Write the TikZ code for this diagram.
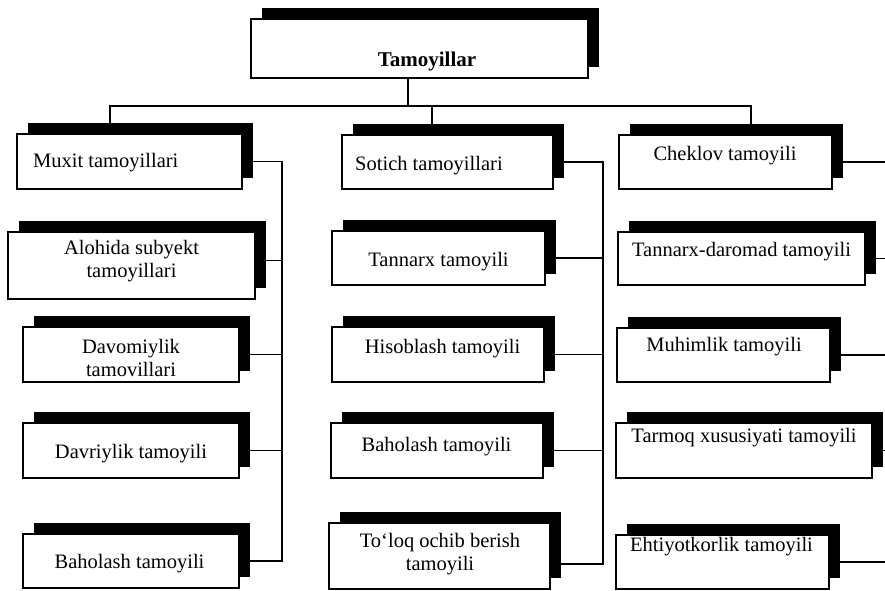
\documentclass[tikz,border=0pt]{standalone}
\usepackage{fontspec}
\setmainfont{Liberation Serif}
\usetikzlibrary{shadows,backgrounds}

\begin{document}
\begin{tikzpicture}[x=1pt,y=-1pt,
  box/.style={rectangle, draw=black, line width=1.5pt, fill=white, inner sep=0pt,
    drop shadow={shadow xshift=11pt, shadow yshift=11pt, fill=black, opacity=1}},
  txt/.style={inner sep=0pt, anchor=base, align=center,
    font=\fontsize{20.5}{23}\selectfont},
  link/.style={draw=black, line width=1.4pt}]
\useasboundingbox (0,0) rectangle (885,590);

% boxes: centre, width, height
\node[box, minimum width=337pt, minimum height=59pt] (top) at (419.5,48.5) {};

\node[box, minimum width=225pt, minimum height=55pt] (l1) at (129.5,161.5) {};
\node[box, minimum width=247pt, minimum height=67pt] (l2) at (131.5,265.5) {};
\node[box, minimum width=216pt, minimum height=55pt] (l3) at (131,354.5) {};
\node[box, minimum width=216pt, minimum height=55pt] (l4) at (131,450.5) {};
\node[box, minimum width=216pt, minimum height=54pt] (l5) at (131,561) {};

\node[box, minimum width=211pt, minimum height=54pt] (m1) at (447.5,162) {};
\node[box, minimum width=213pt, minimum height=54pt] (m2) at (438.5,258) {};
\node[box, minimum width=212pt, minimum height=55pt] (m3) at (438,354.5) {};
\node[box, minimum width=212pt, minimum height=55pt] (m4) at (437,450.5) {};
\node[box, minimum width=221pt, minimum height=66pt] (m5) at (439.5,556) {};

\node[box, minimum width=213pt, minimum height=54pt] (r1) at (725.5,162) {};
\node[box, minimum width=247pt, minimum height=53pt] (r2) at (741.5,258.5) {};
\node[box, minimum width=213pt, minimum height=54pt] (r3) at (723.5,355) {};
\node[box, minimum width=256pt, minimum height=55pt] (r4) at (744,450.5) {};
\node[box, minimum width=213pt, minimum height=54pt] (r5) at (722.5,562) {};

% labels (two-line labels are placed by the baseline of their last line)
\node[txt, font=\fontsize{21}{23}\selectfont\bfseries] (ttop) at (427,66) {Tamoyillar};

\node[txt, anchor=base west] (tl1) at (33,167.5) {Muxit tamoyillari};
\node[txt] (tl2) at (131.5,277.5) {Alohida subyekt\\tamoyillari};
\node[txt] (tl3) at (131,376) {Davomiylik\\tamovillari};
\node[txt] (tl4) at (131,458.5) {Davriylik tamoyili};
\node[txt] (tl5) at (129.5,568) {Baholash tamoyili};

\node[txt, anchor=base west] (tm1) at (355,170.5) {Sotich tamoyillari};
\node[txt] (tm2) at (438.5,266) {Tannarx tamoyili};
\node[txt] (tm3) at (442.5,353) {Hisoblash tamoyili};
\node[txt] (tm4) at (436.5,451) {Baholash tamoyili};
\node[txt] (tm5) at (440,570) {To‘loq ochib berish\\tamoyili};

\node[txt] (tr1) at (725,160) {Cheklov tamoyili};
\node[txt] (tr2) at (741.5,256) {Tannarx-daromad tamoyili};
\node[txt] (tr3) at (724,351.5) {Muhimlik tamoyili};
\node[txt] (tr4) at (744,442) {Tarmoq xususiyati tamoyili};
\node[txt] (tr5) at (721.5,551) {Ehtiyotkorlik tamoyili};

% junction points of the tree
\coordinate (hub) at (408,106);
\coordinate (hl) at (110,106);
\coordinate (hm) at (432,106);
\coordinate (hr) at (751,106);
\coordinate (tl) at (282,0);
\coordinate (tm) at (603,0);
\coordinate (tr) at (885,0);

\begin{scope}[on background layer]
  % top level
  \draw[link] (top.south -| hub) -- (hub);
  \draw[link] (l1.north -| hl) -- (hl) -- (hr) -- (r1.north -| hr);
  \draw[link] (hm) -- (m1.north -| hm);
  % left group
  \draw[link] (l1.east) -- (l1.east -| tl) -- (l5.east -| tl) -- (l5.east);
  \draw[link] ([yshift=5pt]l2.east) -- ([yshift=5pt]l2.east -| tl);
  \draw[link] (l3.east) -- (l3.east -| tl);
  \draw[link] (l4.east) -- (l4.east -| tl);
  % middle group
  \draw[link] (m1.east) -- (m1.east -| tm) -- ([yshift=-8pt]m5.east -| tm) -- ([yshift=-8pt]m5.east);
  \draw[link] (m2.east) -- (m2.east -| tm);
  \draw[link] (m3.east) -- (m3.east -| tm);
  \draw[link] (m4.east) -- (m4.east -| tm);
  % right group, running on past the edge
  \draw[link] (r1.east) -- (r1.east -| tr);
  \draw[link] (r2.east) -- (r2.east -| tr);
  \draw[link] (r3.east) -- (r3.east -| tr);
  \draw[link] (r4.east) -- (r4.east -| tr);
  \draw[link] (r5.east) -- (r5.east -| tr);
\end{scope}
\end{tikzpicture}
\end{document}
